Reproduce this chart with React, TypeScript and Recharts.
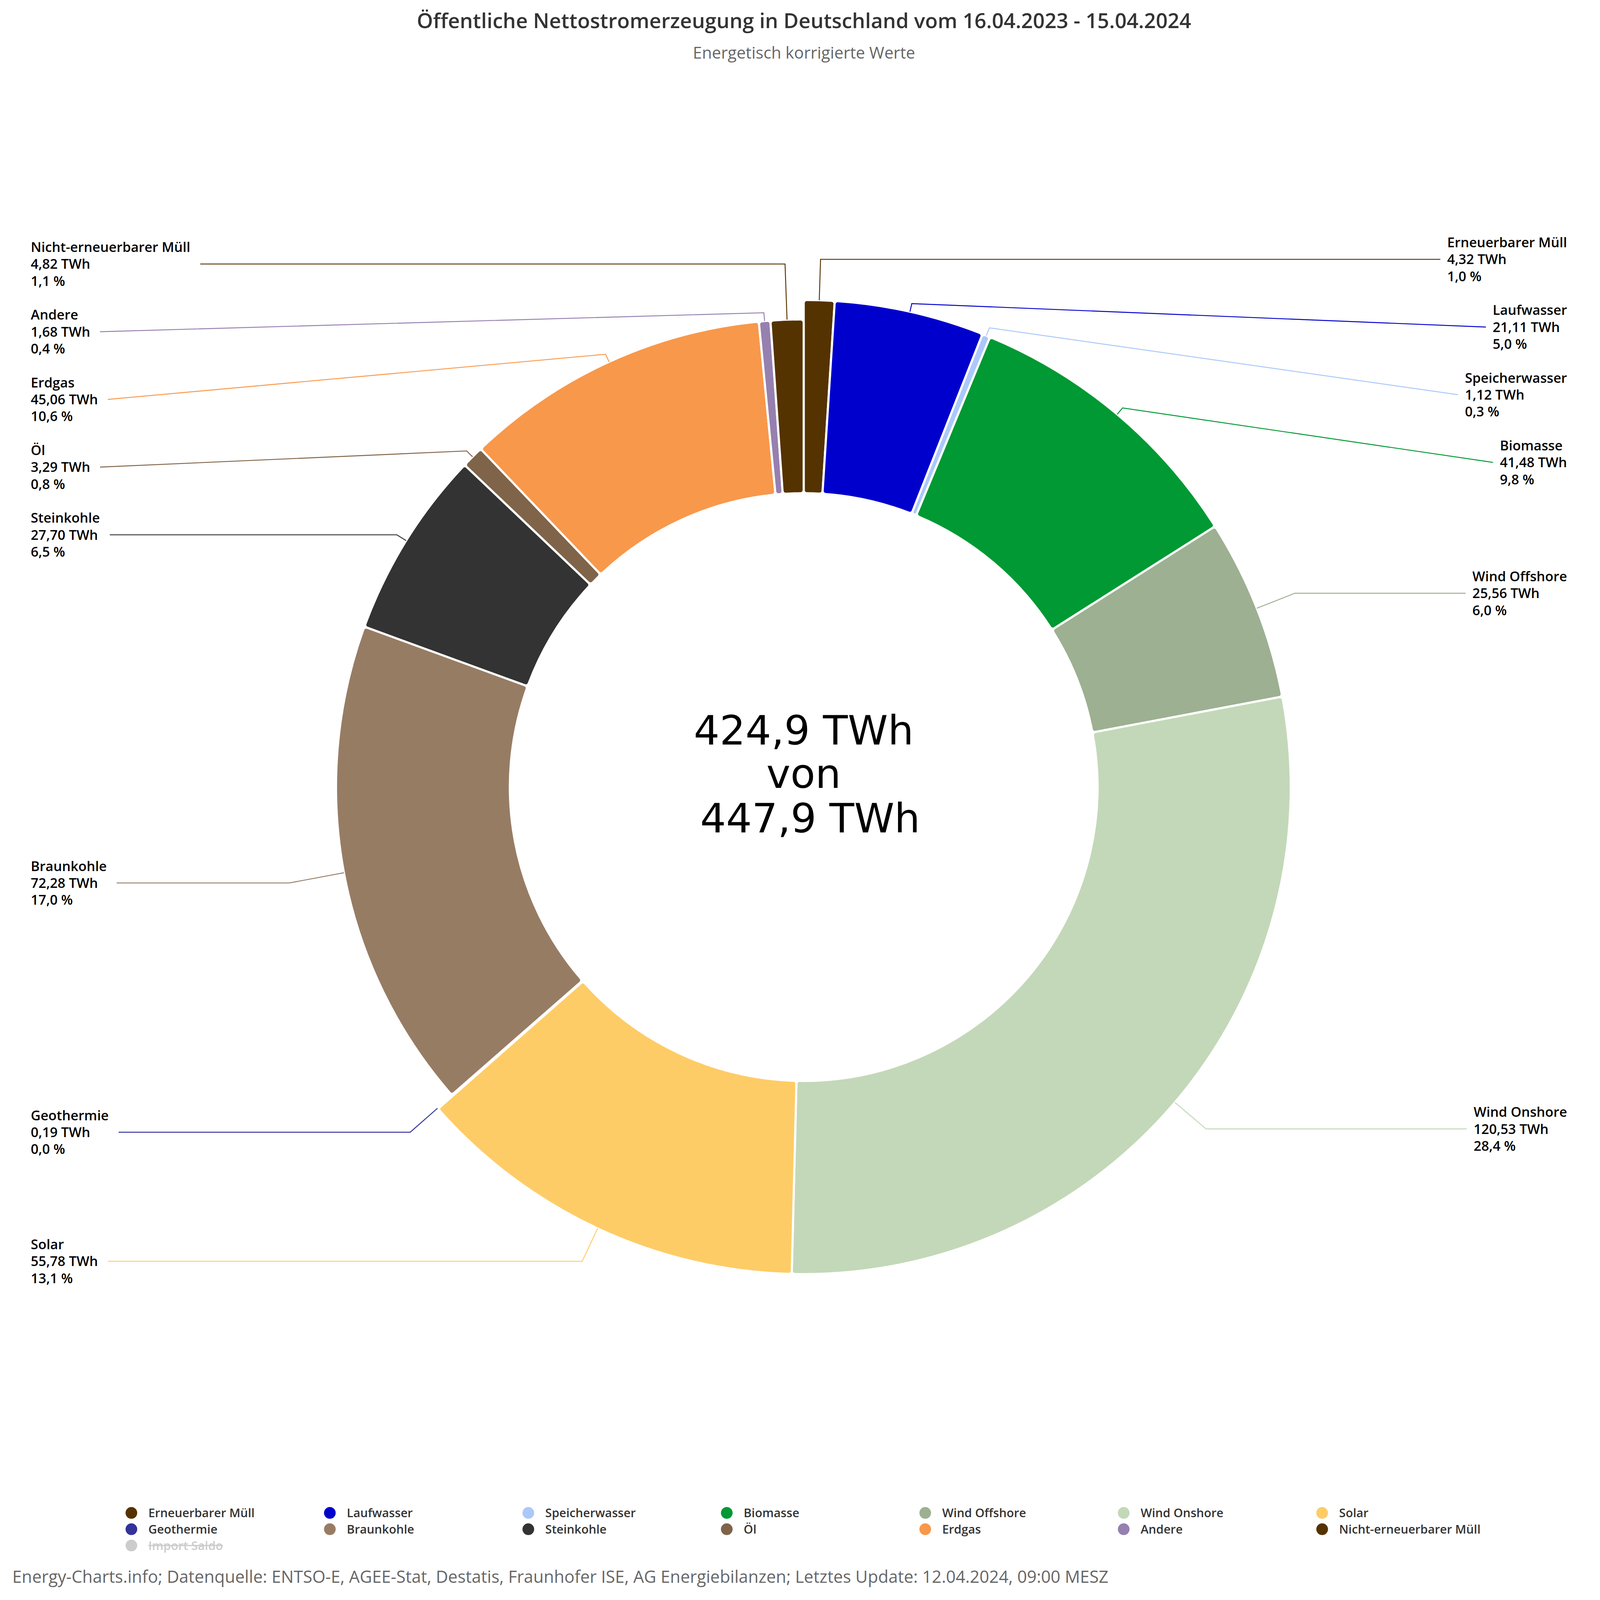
import React from 'react';
import { PieChart, Pie, Cell } from 'recharts';

// ---------- data ----------
const sources = [
  'Erneuerbarer Müll', 'Laufwasser', 'Speicherwasser', 'Biomasse', 'Wind Offshore',
  'Wind Onshore', 'Solar', 'Geothermie', 'Braunkohle', 'Steinkohle', 'Öl', 'Erdgas',
  'Andere', 'Nicht-erneuerbarer Müll',
];
const energyTWh = [4.32, 21.11, 1.12, 41.48, 25.56, 120.53, 55.78, 0.19, 72.28, 27.7, 3.29, 45.06, 1.68, 4.82];
const renewable = [true, true, true, true, true, true, true, true, false, false, false, false, false, false];
const colors = [
  '#553300', '#0000cc', '#abc8fa', '#009933', '#9db092', '#c3d8b8', '#fecc66',
  '#333399', '#977c64', '#333333', '#7f6449', '#f8984b', '#9680b0', '#553300',
];
const hiddenSeries = ['Import Saldo'];
const hiddenColors = ['#cccccc'];
const totalWithImportTWh = 447.9;

const titleText = 'Öffentliche Nettostromerzeugung in Deutschland vom 16.04.2023 - 15.04.2024';
const subtitleText = 'Energetisch korrigierte Werte';
const footerText =
  'Energy-Charts.info; Datenquelle: ENTSO-E, AGEE-Stat, Destatis, Fraunhofer ISE, AG Energiebilanzen; Letztes Update: 12.04.2024, 09:00 MESZ';

// ---------- layout (design units, 5200 x 5200) ----------
const W = 5200;
const H = 5200;
const CX = 2612;
const CY = 2558;
const R_IN = 955;
const R_REN = 1583;
const R_NON = 1520;
const LABEL_R_RIGHT = 1716;
const LABEL_R_LEFT = 1701;
const BREAK_OFF = 27;
const LABEL_GAP = 220;
const LINE_H = 55;
const LEFT_X = 100;
const RIGHT_EDGE = 5093;
const LABEL_FONT_SIZE = 44;
const LABEL_FONT = `600 ${LABEL_FONT_SIZE}px "Open Sans"`;
const FONT = '"Open Sans", "Noto Sans", sans-serif';

const fmt = (v: number, d: number) => v.toFixed(d).replace('.', ',');

const data = sources.map((name, i) => ({
  name,
  value: energyTWh[i],
  renewable: renewable[i],
  color: colors[i],
}));
const total = energyTWh.reduce((a, b) => a + b, 0);

let measureCtx: CanvasRenderingContext2D | null = null;
function measure(s: string, font: string) {
  if (!measureCtx) {
    const c = document.createElement('canvas');
    measureCtx = c.getContext('2d');
  }
  if (!measureCtx) return s.length * LABEL_FONT_SIZE * 0.55;
  measureCtx.font = font;
  return measureCtx.measureText(s).width;
}

// natural label positions, then push-down distribution per side
type Lay = { right: boolean; natY: number; y: number };
const layout: Lay[] = (() => {
  let cum = 0;
  const res: Lay[] = data.map((d) => {
    const frac = (cum + d.value / 2) / total;
    cum += d.value;
    const a = ((90 - frac * 360) * Math.PI) / 180;
    const uy = -Math.sin(a);
    const right = frac < 0.5;
    const natY = CY + (right ? LABEL_R_RIGHT : LABEL_R_LEFT) * uy;
    return { right, natY, y: natY };
  });
  [true, false].forEach((side) => {
    const idx = res.map((r, i) => i).filter((i) => res[i].right === side);
    idx.sort((a, b) => res[a].natY - res[b].natY);
    let prev = -Infinity;
    idx.forEach((i) => {
      const y = Math.max(res[i].natY, prev + LABEL_GAP);
      res[i].y = y;
      prev = y;
    });
  });
  return res;
})();

const renderLabel = (props: any) => {
  let i = props.index;
  if (i === undefined || i === null) i = sources.indexOf(props.name);
  const d = data[i];
  const L = layout[i];
  const a = (-props.midAngle * Math.PI) / 180;
  const ux = Math.cos(a);
  const uy = Math.sin(a);
  const cx = props.cx;
  const cy = props.cy;
  const rOut = d.renewable ? R_REN : R_NON;
  const tx = cx + rOut * ux;
  const ty = cy + rOut * uy;
  const bx = cx + (rOut + BREAK_OFF) * ux;
  const by = cy + (rOut + BREAK_OFF) * uy;
  const lines = [d.name, `${fmt(d.value, 2)} TWh`, `${fmt((d.value / total) * 100, 1)} %`];
  const maxW = Math.max(...lines.map((s) => measure(s, LABEL_FONT)));
  const Y = L.y;
  let textX: number;
  let lineX: number;
  if (L.right) {
    textX = RIGHT_EDGE - maxW;
    lineX = textX - 22;
  } else {
    textX = LEFT_X;
    lineX = LEFT_X + maxW + 32;
  }
  const pts: number[][] = [[lineX, Y]];
  if (Math.abs(uy) > 1e-6) {
    const crookX = cx + (ux * (Y - cy)) / uy;
    const ok = L.right ? crookX <= lineX && crookX >= bx : crookX >= lineX && crookX <= bx;
    if (ok) pts.push([crookX, Y]);
  }
  pts.push([bx, by], [tx, ty]);
  const path = pts.map((p, k) => `${k === 0 ? 'M' : 'L'}${p[0]},${p[1]}`).join(' ');
  return (
    <g key={`lab-${i}`}>
      <path d={path} stroke={d.color} strokeWidth={3} fill="none" />
      {lines.map((s, k) => (
        <text
          key={k}
          x={textX}
          y={Y + (k - 1) * LINE_H + LABEL_FONT_SIZE * 0.36}
          fontFamily={FONT}
          fontWeight={600}
          fontSize={LABEL_FONT_SIZE}
          fill="#000000"
        >
          {s}
        </text>
      ))}
    </g>
  );
};

// ---------- legend ----------
const legendItems = [
  ...data.map((d) => ({ name: d.name, color: d.color, hidden: false })),
  ...hiddenSeries.map((n, i) => ({ name: n, color: hiddenColors[i], hidden: true })),
];
const LEG_X0 = 427;
const LEG_DX = 645;
const LEG_Y0 = 4917;
const LEG_DY = 53;
const LEG_COLS = 7;

export default function App() {
  const vw = typeof window !== 'undefined' ? window.innerWidth : W;
  const vh = typeof window !== 'undefined' ? window.innerHeight : H;
  const S = Math.min(1, vw / W, vh / H);
  return (
    <div style={{ position: 'absolute', left: 0, top: 0, width: W * S, height: H * S, overflow: 'hidden', background: '#ffffff' }}>
      <div
        style={{
          position: 'absolute',
          left: 0,
          top: 0,
          width: W,
          height: H,
          transform: `scale(${S})`,
          transformOrigin: '0 0',
        }}
      >
        <PieChart width={W} height={H} margin={{ top: 0, right: 0, bottom: 0, left: 0 }}>
          <Pie
            data={data}
            dataKey="value"
            nameKey="name"
            cx={CX}
            cy={CY}
            innerRadius={R_IN}
            outerRadius={R_REN}
            startAngle={90}
            endAngle={-270}
            cornerRadius={10}
            isAnimationActive={false}
            label={false}
            labelLine={false}
          >
            {data.map((d, i) => (
              <Cell
                key={`a-${i}`}
                fill={d.renewable ? d.color : 'none'}
                stroke={d.renewable ? '#ffffff' : 'none'}
                strokeWidth={7}
              />
            ))}
          </Pie>
          <Pie
            data={data}
            dataKey="value"
            nameKey="name"
            cx={CX}
            cy={CY}
            innerRadius={R_IN}
            outerRadius={R_NON}
            startAngle={90}
            endAngle={-270}
            cornerRadius={10}
            isAnimationActive={false}
            label={renderLabel}
            labelLine={false}
          >
            {data.map((d, i) => (
              <Cell
                key={`b-${i}`}
                fill={!d.renewable ? d.color : 'none'}
                stroke={!d.renewable ? '#ffffff' : 'none'}
                strokeWidth={7}
              />
            ))}
          </Pie>
        </PieChart>
        <svg width={W} height={H} style={{ position: 'absolute', left: 0, top: 0, pointerEvents: 'none' }}>
          <text x={2613} y={92} textAnchor="middle" fontFamily={FONT} fontWeight={600} fontSize={67} fill="#333333">
            {titleText}
          </text>
          <text x={2613} y={191} textAnchor="middle" fontFamily={FONT} fontSize={53} fill="#666666">
            {subtitleText}
          </text>
          <g fontFamily='"DejaVu Sans", sans-serif' fontSize={132} fill="#000000" textAnchor="middle">
            <text x={CX} y={2420}>{`${fmt(total, 1)} TWh`}</text>
            <text x={CX} y={2561}>von</text>
            <text x={CX} y={2706} xmlSpace="preserve" style={{ whiteSpace: 'pre' }}>{` ${fmt(totalWithImportTWh, 1)} TWh`}</text>
          </g>
          {legendItems.map((it, k) => {
            const col = k % LEG_COLS;
            const row = Math.floor(k / LEG_COLS);
            const x = LEG_X0 + col * LEG_DX;
            const y = LEG_Y0 + row * LEG_DY;
            return (
              <g key={`leg-${k}`}>
                <circle cx={x} cy={y} r={19} fill={it.color} />
                <text
                  x={x + 55}
                  y={y + 14}
                  fontFamily={FONT}
                  fontWeight={600}
                  fontSize={39}
                  fill={it.hidden ? '#cccccc' : '#333333'}
                  textDecoration={it.hidden ? 'line-through' : undefined}
                  style={it.hidden ? { textDecoration: 'line-through' } : undefined}
                >
                  {it.name}
                </text>
              </g>
            );
          })}
          <text x={40} y={5144} fontFamily={FONT} fontSize={55} fill="#666666">
            {footerText}
          </text>
        </svg>
      </div>
    </div>
  );
}
